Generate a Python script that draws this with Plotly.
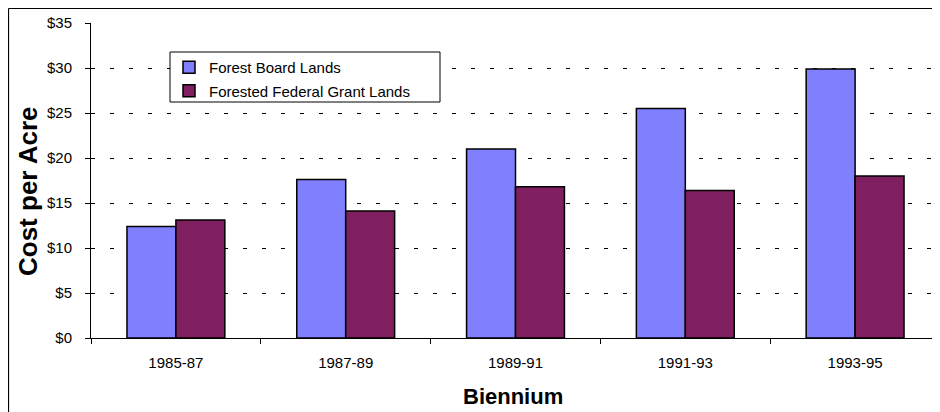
import plotly.graph_objects as go

categories = ["1985-87", "1987-89", "1989-91", "1991-93", "1993-95"]
forest_board = [12.4, 17.6, 21.0, 25.5, 29.9]
federal_grant = [13.1, 14.1, 16.8, 16.4, 18.0]
series_names = ["Forest Board Lands", "Forested Federal Grant Lands"]
y_ticks = [0, 5, 10, 15, 20, 25, 30, 35]

OFF = 8  # page body offset
W, H = 940 - OFF, 412 - OFF
L, R, T, B = 83, 0, 15, 74
pw, ph = W - L - R, H - T - B

def px_x(sx):
    return (sx - OFF - L) / pw

def px_y(sy):
    return (H - B - (sy - OFF)) / ph

font = "Arial, Liberation Sans, sans-serif"

fig = go.Figure()
fig.add_trace(go.Bar(x=categories, y=forest_board, name=series_names[0],
                     marker=dict(color="#8080FF", line=dict(color="#000000", width=1.5)),
                     legendgroup="a"))
fig.add_trace(go.Bar(x=categories, y=federal_grant, name=series_names[1],
                     marker=dict(color="#7F1F5F", line=dict(color="#000000", width=1.5)),
                     legendgroup="b"))

fig.update_layout(
    width=W, height=H,
    margin=dict(l=L, r=R, t=T, b=B, pad=0),
    paper_bgcolor="white", plot_bgcolor="white",
    barmode="group", bargap=0.4235, bargroupgap=0,
    font=dict(family=font, color="#000000", size=15),
    showlegend=True,
    legend=dict(x=px_x(169), y=px_y(51), xanchor="left", yanchor="top",
                bgcolor="rgba(0,0,0,0)", borderwidth=0,
                font=dict(family=font, size=15, color="#000000"),
                tracegroupgap=1, itemwidth=30),
    xaxis=dict(showline=True, linecolor="#000000", linewidth=1,
               ticks="outside", tickson="boundaries", ticklen=5, tickcolor="#000000",
               showgrid=False, range=[-0.5, 4.5],
               tickfont=dict(family=font, size=15, color="#000000"),
               ticklabelstandoff=11),
    yaxis=dict(range=[0, 35], tickvals=y_ticks, ticktext=[f"${v}" for v in y_ticks],
               showline=True, linecolor="#000000", linewidth=1,
               ticks="outside", ticklen=5, tickcolor="#000000",
               showgrid=True, gridcolor="#000000", gridwidth=1, griddash="4px,15px",
               zeroline=False,
               tickfont=dict(family=font, size=15, color="#000000"),
               ticklabelstandoff=10),
    shapes=[
        dict(type="line", xref="paper", yref="paper",
             x0=px_x(8.5), x1=px_x(8.5), y0=px_y(420), y1=px_y(8.5),
             line=dict(color="#000000", width=1.2), layer="below"),
        dict(type="line", xref="paper", yref="paper",
             x0=px_x(8.5), x1=px_x(948), y0=px_y(8.5), y1=px_y(8.5),
             line=dict(color="#000000", width=1.2), layer="below"),
        dict(type="rect", xref="paper", yref="paper",
             x0=px_x(170), x1=px_x(440), y0=px_y(102), y1=px_y(52),
             line=dict(color="#000000", width=1), fillcolor="white", layer="above"),
    ],
    annotations=[
        dict(text="<b>Cost per Acre</b>", xref="paper", yref="paper",
             x=px_x(28), y=px_y(191), textangle=-90, showarrow=False,
             xanchor="center", yanchor="middle",
             font=dict(family=font, size=26, color="#000000")),
        dict(text="<b>Biennium</b>", xref="paper", yref="paper",
             x=px_x(513), y=px_y(396), showarrow=False,
             xanchor="center", yanchor="middle",
             font=dict(family=font, size=22, color="#000000")),
    ],
)

fig.write_html("out.html")
